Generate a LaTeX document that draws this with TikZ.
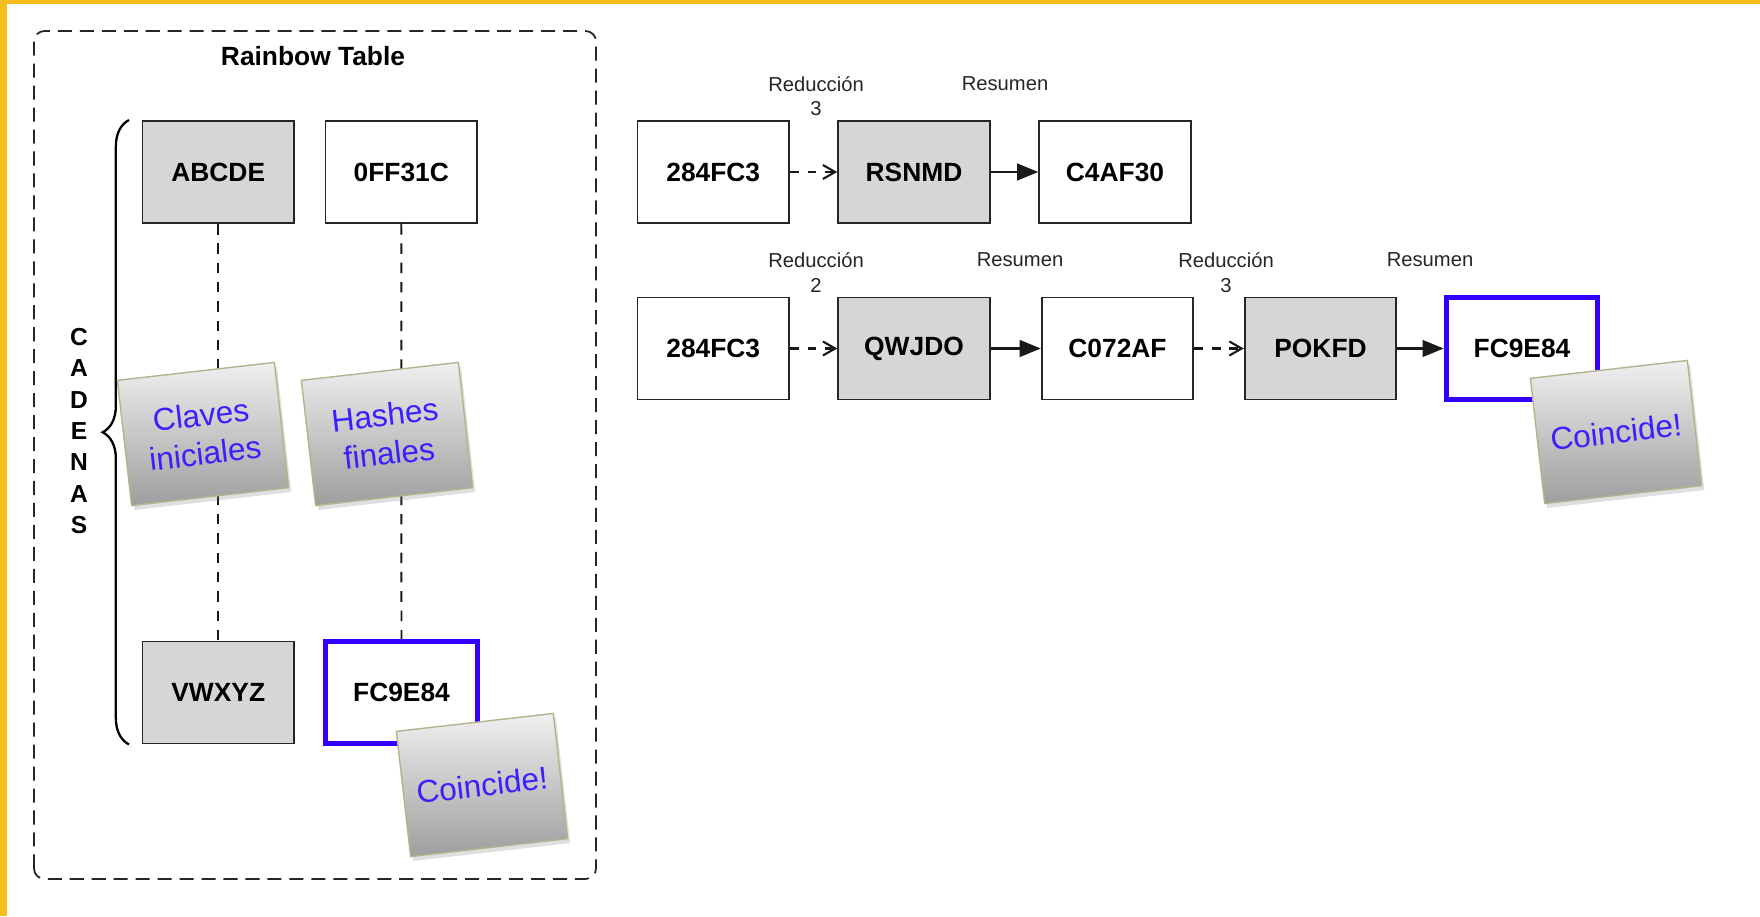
\documentclass[tikz,border=0pt]{standalone}
\usepackage{fontspec}
\setmainfont{Liberation Sans}
\usetikzlibrary{arrows.meta,decorations.pathreplacing,shadows}
\definecolor{boxgray}{RGB}{214,214,214}
\definecolor{matchblue}{RGB}{51,0,255}
\definecolor{notetext}{RGB}{60,30,255}
\definecolor{noteedge}{RGB}{183,178,140}
\definecolor{baryellow}{RGB}{245,190,30}

\begin{document}
\begin{tikzpicture}[
  box/.style={draw=black!85,line width=1.1pt,minimum width=3.03cm,minimum height=2.04cm,inner sep=0pt,font=\fontsize{15}{18}\selectfont\bfseries},
  keybox/.style={box,fill=boxgray},
  hashbox/.style={box,fill=white},
  hitbox/.style={box,fill=white,draw=matchblue,line width=3pt},
  note/.style={draw=noteedge,line width=0.8pt,top color=black!6,bottom color=black!38,minimum width=3.16cm,minimum height=2.52cm,rotate=6.5,align=center,text=notetext,font=\fontsize{18}{22}\selectfont,drop shadow={opacity=0.25,shadow xshift=1.5pt,shadow yshift=-2.5pt}},
  lbl/.style={anchor=north,inner sep=0pt,align=center,text=black!85,font=\fontsize{11.5}{14}\selectfont},
  chainline/.style={black!90,line width=1.1pt,dash pattern=on 6pt off 5pt},
  reduc/.style={black!90,line width=1.2pt,dash pattern=on 5pt off 5pt,-{Straight Barb[length=7pt,width=8pt]}},
  resum/.style={black!90,line width=1.2pt,-{Triangle[length=12pt,width=9.5pt]}}
]
\fill[white] (0,0) rectangle (35.2,18.32);
\fill[baryellow] (0,0) rectangle (0.13,18.32);
\fill[baryellow] (0,18.24) rectangle (35.2,18.32);
\useasboundingbox (0,0) rectangle (35.2,18.32);

% rainbow table
\draw[black!85,line width=1pt,dash pattern=on 8pt off 4.5pt,rounded corners=6pt] (0.68,0.74) rectangle (11.92,17.7);
\node[font=\fontsize{15}{18}\selectfont\bfseries] (title) at (6.26,17.2) {Rainbow Table};

\node[keybox] (k0) at (4.365,14.88) {ABCDE};
\node[hashbox] (h0) at (8.025,14.88) {0FF31C};
\node[keybox] (kn) at (4.365,4.47) {VWXYZ};
\node[hitbox] (hn) at (8.03,4.47) {FC9E84};

\draw[chainline] (k0) -- (kn);
\draw[chainline] (h0) -- (hn);

\draw[black,line width=1.3pt,decorate,decoration={brace,amplitude=15pt}] ([xshift=-0.25cm]kn.south west) -- ([xshift=-0.25cm]k0.north west);
\node[font=\fontsize{14}{17.9}\selectfont\bfseries,align=center] (cad) at (1.58,9.7) {C\\A\\D\\E\\N\\A\\S};

\node[note] (n1) at (4.06,9.64) {Claves\\iniciales};
\node[note] (n2) at (7.74,9.64) {Hashes\\finales};
\node[note] (n3) at (9.64,2.62) {Coincide!};

% first chain
\node[hashbox] (a1) at (14.265,14.88) {284FC3};
\node[keybox] (a2) at (18.28,14.88) {RSNMD};
\node[hashbox] (a3) at (22.3,14.88) {C4AF30};

\draw[reduc] (a1) -- (a2);
\draw[resum] (a2) -- (a3);

\node[lbl] (l1) at (16.32,16.8) {Reducción\\3};
\node[lbl] (l2) at (20.1,16.8) {Resumen};

% second chain
\node[hashbox] (b1) at (14.265,11.35) {284FC3};
\node[keybox] (b2) at (18.28,11.35) {QWJDO};
\node[hashbox] (b3) at (22.35,11.35) {C072AF};
\node[keybox] (b4) at (26.41,11.35) {POKFD};
\node[hitbox] (b5) at (30.44,11.35) {FC9E84};

\draw[reduc] (b1) -- (b2);
\draw[resum] (b2) -- (b3);
\draw[reduc] (b3) -- (b4);
\draw[resum] (b4) -- (b5);

\node[lbl] (l3) at (16.32,13.27) {Reducción\\2};
\node[lbl] (l4) at (20.4,13.27) {Resumen};
\node[lbl] (l5) at (24.52,13.27) {Reducción\\3};
\node[lbl] (l6) at (28.6,13.27) {Resumen};

\node[note] (n4) at (32.32,9.68) {Coincide!};
\end{tikzpicture}
\end{document}
